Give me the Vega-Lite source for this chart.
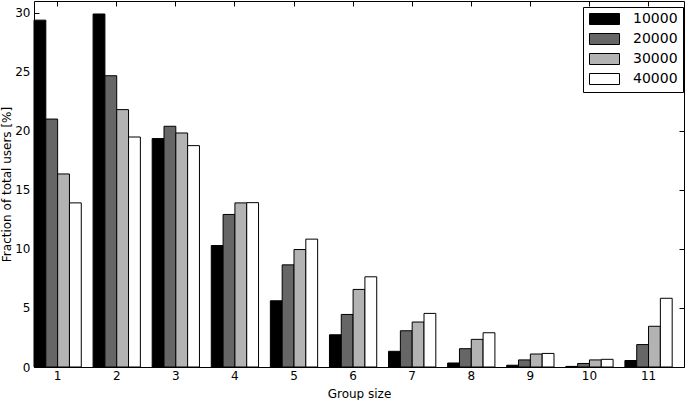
{
  "$schema": "https://vega.github.io/schema/vega-lite/v6.json",
  "width": 650,
  "height": 366,
  "autosize": "none",
  "padding": {"left": 34, "top": 1, "right": 1, "bottom": 33},
  "data": {"values": [
    {"group": 1, "n": "10000", "value": 29.38}, {"group": 1, "n": "20000", "value": 21.0}, {"group": 1, "n": "30000", "value": 16.35}, {"group": 1, "n": "40000", "value": 13.9},
    {"group": 2, "n": "10000", "value": 29.9}, {"group": 2, "n": "20000", "value": 24.67}, {"group": 2, "n": "30000", "value": 21.8}, {"group": 2, "n": "40000", "value": 19.48},
    {"group": 3, "n": "10000", "value": 19.35}, {"group": 3, "n": "20000", "value": 20.39}, {"group": 3, "n": "30000", "value": 19.82}, {"group": 3, "n": "40000", "value": 18.75},
    {"group": 4, "n": "10000", "value": 10.29}, {"group": 4, "n": "20000", "value": 12.92}, {"group": 4, "n": "30000", "value": 13.9}, {"group": 4, "n": "40000", "value": 13.92},
    {"group": 5, "n": "10000", "value": 5.61}, {"group": 5, "n": "20000", "value": 8.65}, {"group": 5, "n": "30000", "value": 9.95}, {"group": 5, "n": "40000", "value": 10.83},
    {"group": 6, "n": "10000", "value": 2.73}, {"group": 6, "n": "20000", "value": 4.45}, {"group": 6, "n": "30000", "value": 6.57}, {"group": 6, "n": "40000", "value": 7.64},
    {"group": 7, "n": "10000", "value": 1.33}, {"group": 7, "n": "20000", "value": 3.07}, {"group": 7, "n": "30000", "value": 3.81}, {"group": 7, "n": "40000", "value": 4.54},
    {"group": 8, "n": "10000", "value": 0.34}, {"group": 8, "n": "20000", "value": 1.55}, {"group": 8, "n": "30000", "value": 2.34}, {"group": 8, "n": "40000", "value": 2.9},
    {"group": 9, "n": "10000", "value": 0.15}, {"group": 9, "n": "20000", "value": 0.6}, {"group": 9, "n": "30000", "value": 1.1}, {"group": 9, "n": "40000", "value": 1.15},
    {"group": 10, "n": "10000", "value": 0.05}, {"group": 10, "n": "20000", "value": 0.3}, {"group": 10, "n": "30000", "value": 0.6}, {"group": 10, "n": "40000", "value": 0.65},
    {"group": 11, "n": "10000", "value": 0.55}, {"group": 11, "n": "20000", "value": 1.9}, {"group": 11, "n": "30000", "value": 3.45}, {"group": 11, "n": "40000", "value": 5.82}
  ]},
  "layer": [
    {
      "mark": {"type": "bar", "stroke": "black", "strokeWidth": 1},
      "encoding": {
        "x": {"field": "group", "type": "ordinal",
              "scale": {"paddingInner": 0.2, "paddingOuter": 0.1, "align": 0},
              "axis": {"orient": "bottom", "title": "Group size", "labelAngle": 0, "labelPadding": 8, "titlePadding": 7}},
        "xOffset": {"field": "n", "type": "nominal", "sort": ["10000", "20000", "30000", "40000"]},
        "y": {"field": "value", "type": "quantitative",
              "scale": {"domain": [0, 31], "nice": false, "zero": true},
              "axis": {"orient": "left", "title": "Fraction of total users [%]", "values": [0, 5, 10, 15, 20, 25, 30], "labelPadding": 9, "titlePadding": 1}},
        "color": {"field": "n", "type": "nominal",
                  "sort": ["10000", "20000", "30000", "40000"],
                  "scale": {"domain": ["10000", "20000", "30000", "40000"], "range": ["#000000", "#666666", "#b3b3b3", "#ffffff"]},
                  "legend": {"title": null, "orient": "none", "legendX": 549, "legendY": 6,
                             "symbolType": "M-1,-1H4.4545V1H-1Z", "symbolSize": 121,
                             "symbolStrokeColor": "black", "symbolStrokeWidth": 1, "symbolOpacity": 1,
                             "labelOffset": 31, "rowPadding": 4, "padding": 5,
                             "strokeColor": "black", "fillColor": "white", "cornerRadius": 0}}
      }
    },
    {
      "mark": {"type": "bar", "opacity": 0},
      "encoding": {
        "x": {"field": "group", "type": "ordinal",
              "axis": {"orient": "top", "title": null, "labels": false}},
        "xOffset": {"field": "n", "type": "nominal", "sort": ["10000", "20000", "30000", "40000"]},
        "y": {"field": "value", "type": "quantitative",
              "axis": {"orient": "right", "title": null, "labels": false, "values": [0, 5, 10, 15, 20, 25, 30]}}
      }
    }
  ],
  "resolve": {"axis": {"x": "independent", "y": "independent"}},
  "config": {
    "font": "DejaVu Sans",
    "view": {"stroke": "black", "strokeWidth": 1},
    "axis": {"labelFont": "DejaVu Sans", "titleFont": "DejaVu Sans", "labelFontSize": 12, "titleFontSize": 12,
             "titleFontWeight": "normal", "labelColor": "black", "titleColor": "black",
             "tickColor": "black", "tickWidth": 1, "tickSize": -5, "domain": false, "grid": false},
    "legend": {"labelFont": "DejaVu Sans", "labelFontSize": 14, "labelColor": "black", "strokeWidth": 1}
  }
}
